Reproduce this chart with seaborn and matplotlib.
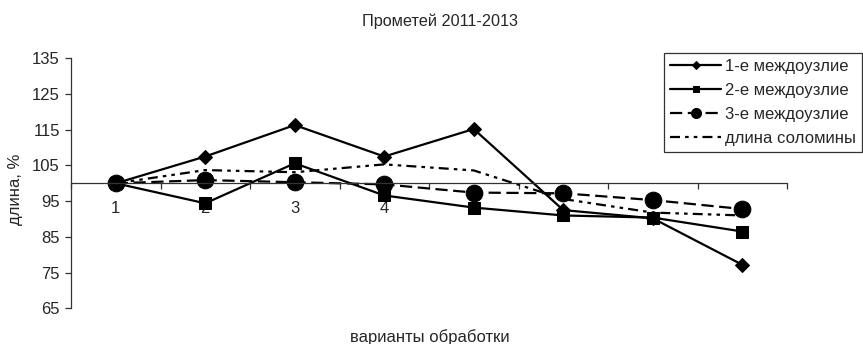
import matplotlib
matplotlib.use("Agg")
import matplotlib.pyplot as plt
import seaborn as sns
import numpy as np

# Treatment variants (categories on the x axis)
variants = [1, 2, 3, 4, 5, 6, 7, 8]
variant_labels = ["1", "2", "3", "4", "", "", "", ""]

# Internode / straw length relative to the control, %
internode_1 = [100, 107.5, 116.3, 107.5, 115.2, 92.5, 90.2, 77.2]
internode_2 = [100, 94.4, 105.6, 96.6, 93.2, 91.0, 90.4, 86.5]
internode_3 = [100, 100.9, 100.3, 99.7, 97.4, 97.2, 95.3, 92.8]
straw_length = [100, 103.7, 103.1, 105.3, 103.6, 95.6, 91.8, 91.0]

series_names = ["1-е междоузлие", "2-е междоузлие", "3-е междоузлие", "длина соломины"]
y_ticks = [65, 75, 85, 95, 105, 115, 125, 135]

sns.set_theme(style="white")
plt.rcParams["font.family"] = ["Liberation Sans", "DejaVu Sans"]
fs = 12

fig = plt.figure(figsize=(8.63, 3.44), dpi=100)
ax = fig.add_axes([71 / 863, 1 - 308.3 / 344, (787 - 71) / 863, 250 / 344])

lw = 1.6
sns.lineplot(x=variants, y=internode_1, ax=ax, color="black", lw=lw,
             marker="D", markersize=7, markeredgecolor="black",
             label=series_names[0])
sns.lineplot(x=variants, y=internode_2, ax=ax, color="black", lw=lw,
             marker="s", markersize=8, markeredgecolor="black",
             label=series_names[1])
sns.lineplot(x=variants, y=internode_3, ax=ax, color="black", lw=lw,
             marker="o", markersize=12, markeredgecolor="black",
             dashes=False, label=series_names[2])
sns.lineplot(x=variants, y=straw_length, ax=ax, color="black", lw=lw,
             dashes=False, label=series_names[3])

lines = ax.get_lines()
lines[2].set_dashes((5.5, 2.5))
lines[3].set_dashes((4.5, 2.3, 1.6, 2.3, 1.6, 2.3))

ax.set_xlim(0.5, 8.5)
ax.set_ylim(65, 135)

# Category axis crosses the value axis at 100
ax.spines["bottom"].set_position(("data", 100))
ax.spines["top"].set_visible(False)
ax.spines["right"].set_visible(False)
for s in ("left", "bottom"):
    ax.spines[s].set_color("#333333")
    ax.spines[s].set_linewidth(0.9)

ax.set_yticks(y_ticks)
ax.tick_params(axis="y", which="major", direction="out", length=4, width=0.9,
               color="#333333", pad=4, labelsize=fs, left=True)

# Tick marks between categories, labels at the category centres
ax.set_xticks(np.arange(0.5, 9.0, 1.0))
ax.set_xticklabels([])
ax.set_xticks(variants, minor=True)
ax.set_xticklabels(variant_labels, minor=True)
ax.tick_params(axis="x", which="major", direction="out", length=4, width=0.9,
               color="#333333", bottom=True)
ax.tick_params(axis="x", which="minor", length=0, pad=13, labelsize=fs)

ax.set_xlabel("варианты обработки", fontsize=fs)
ax.xaxis.set_label_coords(0.5007, -0.085)
ax.set_ylabel("длина, %", fontsize=fs)
ax.yaxis.label.set_va("center")
ax.yaxis.set_label_coords(-0.077, 0.477)

fig.text(440 / 863, 1 - 21 / 344, "Прометей 2011-2013", ha="center",
         va="center", fontsize=11.7)

handles, labels = ax.get_legend_handles_labels()
leg = ax.legend(handles, labels, loc="upper right",
                bbox_to_anchor=(862 / 863, 1 - 53 / 344),
                bbox_transform=fig.transFigure, frameon=True, fancybox=False,
                edgecolor="black", fontsize=fs, handlelength=3.05,
                handletextpad=0.25, borderpad=0.35, labelspacing=0.55,
                borderaxespad=0, markerscale=0.6)
leg.get_frame().set_linewidth(0.9)

fig.savefig("out.png", dpi=100, facecolor="white")
